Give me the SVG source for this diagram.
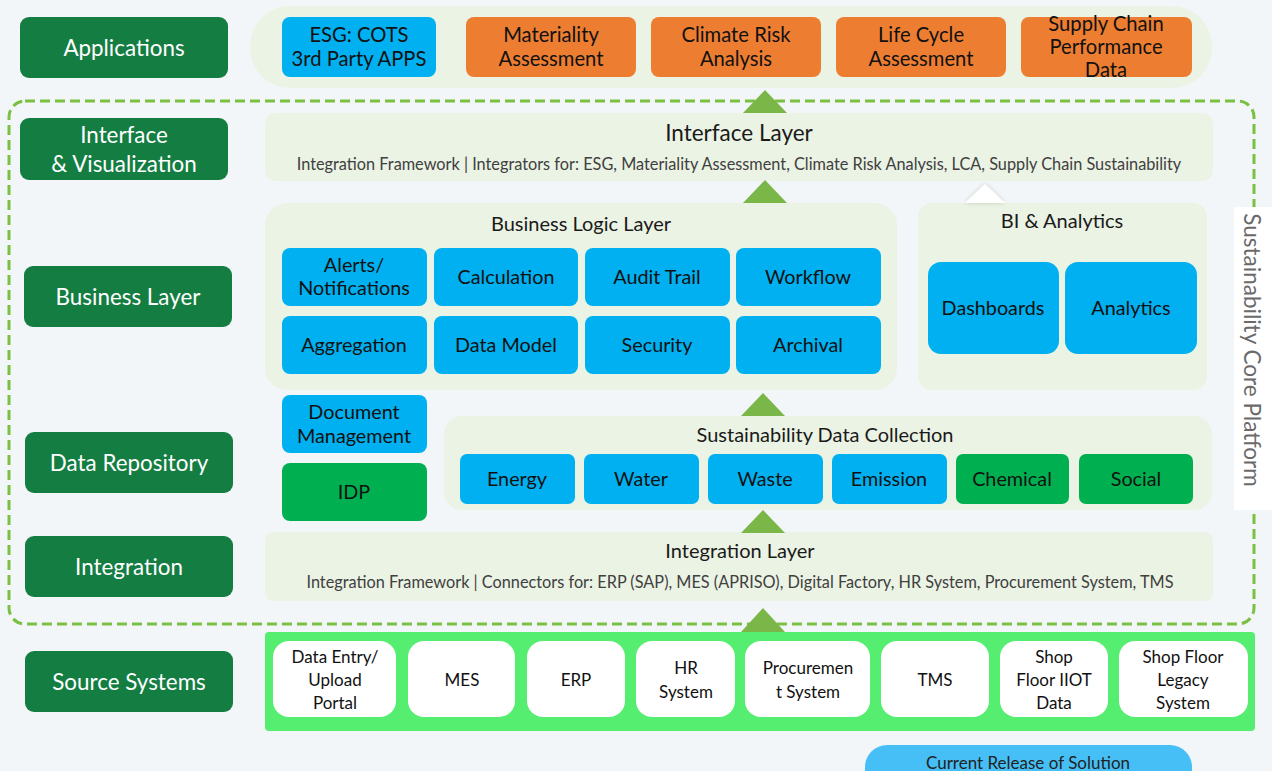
<svg xmlns="http://www.w3.org/2000/svg" width="1272" height="771" viewBox="0 0 1272 771">
<style>
text{font-family:Lato,"Open Sans","Liberation Sans",sans-serif;text-anchor:middle;dominant-baseline:central}
.lbl rect{fill:#137d42}
.lbl text{fill:#fff;font-size:22.4px}
.cont{fill:#ebf3e4}
.blue{fill:#00b0f0}
.orange{fill:#ed7d31}
.green{fill:#00b050}
.wbox{fill:#fff}
.bt{fill:#111;font-size:19.8px}
.at{fill:#111;font-size:20.2px}
.st{fill:#111;font-size:17px}
.title{fill:#1a1a1a;font-size:20px}
.big{font-size:22.5px}
.sub{fill:#404040;font-size:16.3px}
.tri{fill:#7ab648}
</style>
<defs>
<filter id="sh" x="-30%" y="-30%" width="160%" height="160%"><feDropShadow dx="0" dy="0" stdDeviation="2" flood-color="#000" flood-opacity="0.18"/></filter>
</defs>
<rect width="1272" height="771" fill="#f3f6f8"/>

<!-- dashed platform border -->
<rect id="platform" x="9" y="101" width="1245" height="523" rx="16" fill="none" stroke="#7ac143" stroke-width="3" stroke-dasharray="10 5"/>

<!-- left layer labels -->
<g id="lbl-applications" class="lbl"><rect x="20" y="17" width="208" height="61" rx="9"/><text x="124" y="47">Applications</text></g>
<g id="lbl-interface" class="lbl"><rect x="20" y="118" width="208" height="62" rx="9"/><text x="124" y="134">Interface</text><text x="124" y="163">&amp; Visualization</text></g>
<g id="lbl-business" class="lbl"><rect x="24" y="266" width="208" height="61" rx="9"/><text x="128" y="296">Business Layer</text></g>
<g id="lbl-data" class="lbl"><rect x="25" y="432" width="208" height="61" rx="9"/><text x="129" y="462">Data Repository</text></g>
<g id="lbl-integration" class="lbl"><rect x="25" y="536" width="208" height="61" rx="9"/><text x="129" y="566">Integration</text></g>
<g id="lbl-source" class="lbl"><rect x="25" y="651" width="208" height="61" rx="9"/><text x="129" y="681">Source Systems</text></g>

<!-- Applications -->
<g id="applications">
<rect class="cont" x="250" y="6" width="962" height="82" rx="40"/>
<rect class="blue" x="282" y="17" width="154" height="60" rx="8"/><text class="at" x="359" y="34">ESG: COTS</text><text class="at" x="359" y="58">3rd Party APPS</text>
<rect class="orange" x="466" y="17" width="170" height="60" rx="8"/><text class="at" x="551" y="34">Materiality</text><text class="at" x="551" y="58">Assessment</text>
<rect class="orange" x="651" y="17" width="170" height="60" rx="8"/><text class="at" x="736" y="34">Climate Risk</text><text class="at" x="736" y="58">Analysis</text>
<rect class="orange" x="836" y="17" width="170" height="60" rx="8"/><text class="at" x="921" y="34">Life Cycle</text><text class="at" x="921" y="58">Assessment</text>
<rect class="orange" x="1021" y="17" width="171" height="60" rx="8"/><text class="at" x="1106" y="23">Supply Chain</text><text class="at" x="1106" y="46">Performance</text><text class="at" x="1106" y="69">Data</text>
</g>

<!-- Interface layer -->
<g id="interface">
<rect class="cont" x="265" y="113" width="948" height="68" rx="10"/>
<text class="title big" x="739" y="132">Interface Layer</text>
<text class="sub" x="739" y="163">Integration Framework | Integrators for: ESG, Materiality Assessment, Climate Risk Analysis, LCA, Supply Chain Sustainability</text>
</g>

<!-- Business logic layer -->
<g id="business">
<rect class="cont" x="265" y="203" width="632" height="187" rx="22"/>
<text class="title" x="581" y="223">Business Logic Layer</text>
<rect class="blue" x="282" y="248" width="145" height="58" rx="8"/><text class="bt" x="354" y="264">Alerts/</text><text class="bt" x="354" y="287">Notifications</text>
<rect class="blue" x="434" y="248" width="144" height="58" rx="8"/><text class="bt" x="506" y="276">Calculation</text>
<rect class="blue" x="585" y="248" width="145" height="58" rx="8"/><text class="bt" x="657" y="276">Audit Trail</text>
<rect class="blue" x="736" y="248" width="145" height="58" rx="8"/><text class="bt" x="808" y="276">Workflow</text>
<rect class="blue" x="282" y="316" width="145" height="58" rx="8"/><text class="bt" x="354" y="344">Aggregation</text>
<rect class="blue" x="434" y="316" width="144" height="58" rx="8"/><text class="bt" x="506" y="344">Data Model</text>
<rect class="blue" x="585" y="316" width="145" height="58" rx="8"/><text class="bt" x="657" y="344">Security</text>
<rect class="blue" x="736" y="316" width="145" height="58" rx="8"/><text class="bt" x="808" y="344">Archival</text>
</g>

<!-- BI & Analytics -->
<g id="bi">
<rect class="cont" x="918" y="203" width="289" height="187" rx="14"/>
<text class="title" x="1062" y="220">BI &amp; Analytics</text>
<rect class="blue" x="928" y="262" width="131" height="92" rx="13"/><text class="bt" x="993" y="307">Dashboards</text>
<rect class="blue" x="1065" y="262" width="132" height="92" rx="13"/><text class="bt" x="1131" y="307">Analytics</text>
</g>

<!-- platform label -->
<g id="platform-label">
<rect x="1234" y="207" width="38" height="303" fill="#fff"/>
<text x="1252" y="350" font-size="22.5" fill="#6a6a6a" transform="rotate(90 1252 350)">Sustainability Core Platform</text>
</g>

<!-- Document management / IDP -->
<g id="docmgmt"><rect class="blue" x="282" y="395" width="145" height="58" rx="8"/><text class="bt" x="354" y="411">Document</text><text class="bt" x="354" y="435">Management</text></g>
<g id="idp"><rect class="green" x="282" y="463" width="145" height="58" rx="8"/><text class="bt" x="354" y="491">IDP</text></g>

<!-- Sustainability data collection -->
<g id="datacollection">
<rect class="cont" x="444" y="416" width="768" height="94" rx="18"/>
<text class="title" x="825" y="434">Sustainability Data Collection</text>
<rect class="blue" x="460" y="454" width="115" height="50" rx="7"/><text class="bt" x="517" y="478">Energy</text>
<rect class="blue" x="584" y="454" width="115" height="50" rx="7"/><text class="bt" x="641" y="478">Water</text>
<rect class="blue" x="708" y="454" width="115" height="50" rx="7"/><text class="bt" x="765" y="478">Waste</text>
<rect class="blue" x="832" y="454" width="115" height="50" rx="7"/><text class="bt" x="889" y="478">Emission</text>
<rect class="green" x="956" y="454" width="113" height="50" rx="7"/><text class="bt" x="1012" y="478">Chemical</text>
<rect class="green" x="1079" y="454" width="114" height="50" rx="7"/><text class="bt" x="1136" y="478">Social</text>
</g>

<!-- Integration layer -->
<g id="integration">
<rect class="cont" x="265" y="532" width="948" height="69" rx="8"/>
<text class="title" x="740" y="550">Integration Layer</text>
<text class="sub" x="740" y="581">Integration Framework | Connectors for: ERP (SAP), MES (APRISO), Digital Factory, HR System, Procurement System, TMS</text>
</g>

<!-- Source systems -->
<g id="sources">
<rect x="265" y="632" width="990" height="99" rx="4" fill="#55ee70"/>
<rect class="wbox" x="273" y="641" width="123" height="76" rx="16"/><text class="st" x="335" y="656">Data Entry/</text><text class="st" x="335" y="679">Upload</text><text class="st" x="335" y="702">Portal</text>
<rect class="wbox" x="408" y="641" width="107" height="76" rx="16"/><text class="st" x="462" y="679">MES</text>
<rect class="wbox" x="527" y="641" width="98" height="76" rx="16"/><text class="st" x="576" y="679">ERP</text>
<rect class="wbox" x="636" y="641" width="99" height="76" rx="16"/><text class="st" x="686" y="667">HR</text><text class="st" x="686" y="691">System</text>
<rect class="wbox" x="745" y="641" width="125" height="76" rx="16"/><text class="st" x="808" y="667">Procuremen</text><text class="st" x="808" y="691">t System</text>
<rect class="wbox" x="881" y="641" width="108" height="76" rx="16"/><text class="st" x="935" y="679">TMS</text>
<rect class="wbox" x="1000" y="641" width="108" height="76" rx="16"/><text class="st" x="1054" y="656">Shop</text><text class="st" x="1054" y="679">Floor IIOT</text><text class="st" x="1054" y="702">Data</text>
<rect class="wbox" x="1119" y="641" width="129" height="76" rx="16"/><text class="st" x="1183" y="656">Shop Floor</text><text class="st" x="1183" y="679">Legacy</text><text class="st" x="1183" y="702">System</text>
</g>

<!-- connectors (flow arrows) -->
<g id="connectors">
<polygon class="tri" points="743,113 765,90 787,113"/>
<polygon class="tri" points="743,203 765,180 787,203"/>
<polygon class="tri" points="741,416 763,393 785,416"/>
<polygon class="tri" points="741,533 763,510 785,533"/>
<polygon class="tri" points="741,632 763,608 785,632"/>
<polygon points="965,203 985,184 1005,203" fill="#fff" filter="url(#sh)"/>
</g>

<!-- legend -->
<g id="legend">
<rect x="865" y="745" width="327" height="50" rx="22" fill="#45bff5"/>
<text x="1028" y="762" font-size="17" fill="#222">Current Release of Solution</text>
</g>
</svg>
